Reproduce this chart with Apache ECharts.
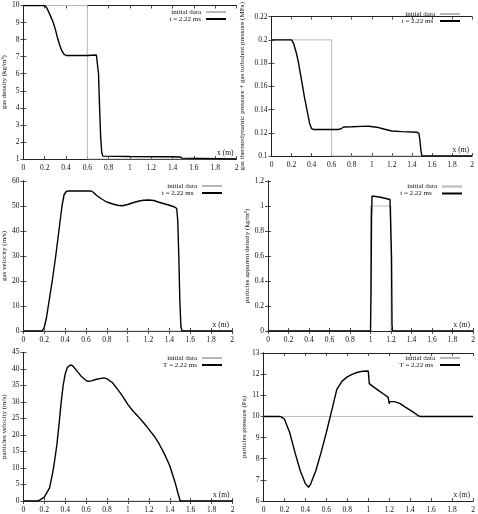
<!DOCTYPE html>
<html>
<head>
<meta charset="utf-8">
<script src="https://cdn.jsdelivr.net/npm/echarts@6/dist/echarts.min.js"></script>
<style>
  html, body { margin: 0; padding: 0; background: #fff; }
  #main { width: 478px; height: 514px; }
</style>
</head>
<body>
<div id="main"></div>
<script>
// ---- data ----
// gas density (kg/m3)
var xDensity0 = [0, 0.6, 0.6, 2];
var yDensity0 = [10, 10, 1, 1];
var xDensity = [0, 0.2, 0.22, 0.25, 0.28, 0.3, 0.32, 0.34, 0.36, 0.38, 0.4, 0.6, 0.685, 0.695, 0.705, 0.715, 0.725, 0.735, 0.745, 0.76, 1.0, 1.4, 1.47, 1.49, 1.5, 2];
var yDensity = [10, 10, 9.85, 9.45, 9.0, 8.6, 8.1, 7.7, 7.35, 7.15, 7.07, 7.07, 7.1, 7.0, 6.0, 4.0, 2.3, 1.4, 1.17, 1.15, 1.15, 1.13, 1.12, 1.05, 1.0, 1.0];

// gas thermodynamic + turbulent pressure (MPa)
var xPress0 = [0, 0.6, 0.6, 2];
var yPress0 = [0.2, 0.2, 0.1, 0.1];
var xPress = [0, 0.2, 0.22, 0.25, 0.27, 0.3, 0.33, 0.36, 0.38, 0.4, 0.42, 0.66, 0.69, 0.72, 0.8, 0.9, 0.97, 1.05, 1.12, 1.2, 1.3, 1.45, 1.47, 1.48, 1.49, 1.5, 2];
var yPress = [0.2, 0.2, 0.197, 0.188, 0.18, 0.165, 0.15, 0.137, 0.128, 0.1235, 0.1228, 0.1228, 0.1232, 0.125, 0.1252, 0.1255, 0.1256, 0.1248, 0.1232, 0.1215, 0.121, 0.1205, 0.1195, 0.114, 0.105, 0.1, 0.1];

// gas velocity (m/s)
var xGasVel0 = [0, 2];
var yGasVel0 = [0, 0];
var xGasVel = [0, 0.18, 0.2, 0.22, 0.25, 0.28, 0.31, 0.34, 0.37, 0.39, 0.41, 0.43, 0.65, 0.67, 0.7, 0.75, 0.8, 0.85, 0.9, 0.95, 1.0, 1.05, 1.1, 1.15, 1.2, 1.25, 1.3, 1.35, 1.4, 1.45, 1.47, 1.48, 1.49, 1.5, 1.51, 1.52, 2];
var yGasVel = [0, 0, 1.5, 5, 13, 21, 30, 40, 50, 54.5, 55.8, 56, 56, 55.5, 54.3, 52.8, 51.6, 50.9, 50.3, 50.1, 50.6, 51.3, 51.9, 52.3, 52.4, 52.2, 51.5, 50.9, 50.3, 49.6, 49.0, 44, 30, 12, 2, 0, 0];

// particles apparent density (kg/m3)
var xPartDens0 = [0, 1, 1, 1.2, 1.2, 2];
var yPartDens0 = [0, 0, 1, 1, 0, 0];
var xPartDens = [0, 1.0, 1.005, 1.01, 1.015, 1.02, 1.1, 1.19, 1.2, 1.205, 1.21, 1.215, 2];
var yPartDens = [0, 0, 0.3, 0.9, 1.08, 1.085, 1.07, 1.052, 1.05, 0.6, 0.05, 0, 0];

// particles velocity (m/s)
var xPartVel0 = [0, 2];
var yPartVel0 = [0, 0];
var xPartVel = [0, 0.13, 0.15, 0.2, 0.25, 0.28, 0.3, 0.32, 0.34, 0.36, 0.38, 0.4, 0.42, 0.45, 0.47, 0.5, 0.55, 0.6, 0.62, 0.65, 0.7, 0.77, 0.8, 0.85, 0.9, 0.95, 1.0, 1.05, 1.1, 1.15, 1.2, 1.25, 1.3, 1.35, 1.4, 1.45, 1.48, 1.5, 2];
var yPartVel = [0, 0, 0.2, 1.2, 4, 8.5, 12.5, 17, 23, 29.5, 35, 38.5, 40.5, 41.2, 41.0, 39.9, 37.9, 36.5, 36.3, 36.4, 36.9, 37.3, 37.0, 35.9, 33.9, 31.7, 29.2, 27.2, 25.5, 23.7, 21.7, 19.7, 17.2, 14.2, 10.7, 5.7, 2.2, 0, 0];

// particles pressure (Pa)
var xPartPres0 = [0, 2];
var yPartPres0 = [10, 10];
var xPartPres = [0, 0.15, 0.17, 0.2, 0.25, 0.3, 0.35, 0.4, 0.43, 0.45, 0.5, 0.55, 0.6, 0.65, 0.7, 0.75, 0.8, 0.85, 0.9, 0.95, 1.0, 1.005, 1.01, 1.02, 1.05, 1.1, 1.15, 1.19, 1.2, 1.205, 1.25, 1.3, 1.35, 1.4, 1.45, 1.48, 1.5, 2];
var yPartPres = [10, 10, 9.98, 9.87, 9.24, 8.3, 7.44, 6.82, 6.65, 6.8, 7.44, 8.3, 9.24, 10.25, 11.28, 11.67, 11.87, 12.0, 12.09, 12.14, 12.15, 12.12, 11.55, 11.5, 11.4, 11.22, 11.05, 10.9, 10.6, 10.7, 10.7, 10.62, 10.45, 10.3, 10.13, 10.02, 10, 10];

var xTicks = { min: 0, max: 2, interval: 0.2 };

function pairs(xs, ys) {
    return xs.map(function (x, i) { return [x, ys[i]]; });
}

var FONT = '"Liberation Serif", "DejaVu Serif", serif';

var panels = [
    { grid: { left: 21, top: 5.5, width: 215.5, height: 153.5 }, yMin: 1, yMax: 10, yInt: 1,
      yName: 'gas density (kg/m\u00b3)', nameGap: 13,
      init: pairs(xDensity0, yDensity0), res: pairs(xDensity, yDensity), resName: 't = 2.22 ms',
      legend: { right: 251, top: 8.5 } },
    { grid: { left: 271.5, top: 7.5, width: 200.5, height: 148.5 }, yMin: 0.1, yMax: 0.22, yInt: 0.02,
      yName: 'gas thermodynamic pressure + gas turbulent pressure (MPa)', nameGap: 26,
      init: pairs(xPress0, yPress0), res: pairs(xPress, yPress), resName: 't = 2.22 ms ',
      legend: { right: 17, top: 10.5 } },
    { grid: { left: 21.5, top: 181, width: 210.5, height: 150 }, yMin: 0, yMax: 60, yInt: 10,
      yName: 'gas velocity (m/s)', nameGap: 15,
      init: pairs(xGasVel0, yGasVel0), res: pairs(xGasVel, yGasVel), resName: 't = 2.22 ms  ',
      legend: { right: 255, top: 182.5 } },
    { grid: { left: 268, top: 181, width: 205, height: 150 }, yMin: 0, yMax: 1.2, yInt: 0.2,
      yName: 'particles apparent density (kg/m\u00b3)', nameGap: 17,
      init: pairs(xPartDens0, yPartDens0), res: pairs(xPartDens, yPartDens), resName: 't = 2.22 ms   ',
      legend: { right: 15, top: 183 } },
    { grid: { left: 21.5, top: 352.5, width: 211, height: 149.5 }, yMin: 0, yMax: 45, yInt: 5,
      yName: 'particles velocity (m/s)', nameGap: 15,
      init: pairs(xPartVel0, yPartVel0), res: pairs(xPartVel, yPartVel), resName: 'T = 2.22 ms',
      legend: { right: 255, top: 354.5 } },
    { grid: { left: 263.5, top: 353, width: 209.5, height: 149 }, yMin: 6, yMax: 13, yInt: 1,
      yName: 'particles pressure (Pa)', nameGap: 10,
      init: pairs(xPartPres0, yPartPres0), res: pairs(xPartPres, yPartPres), resName: 'T = 2.22 ms ',
      legend: { right: 17, top: 354.5 } }
];

var axisLine = { show: true, lineStyle: { color: '#222', width: 1 } };
var tick = { show: true, inside: true, length: 3, lineStyle: { color: '#222', width: 0.8 } };
var label = { color: '#111', fontFamily: FONT, fontSize: 7.5 };

var grids = [], xAxes = [], yAxes = [], series = [], legends = [];

panels.forEach(function (p, i) {
    grids.push(Object.assign({ containLabel: false }, p.grid));

    // bottom axis + mirrored top ticks
    xAxes.push({
        type: 'value', gridIndex: i, position: 'bottom',
        min: xTicks.min, max: xTicks.max, interval: xTicks.interval,
        axisLine: axisLine, axisTick: tick, splitLine: { show: false },
        axisLabel: Object.assign({ margin: 5 }, label),
        name: 'x (m)', nameLocation: 'end', nameGap: -3,
        nameTextStyle: { fontFamily: FONT, fontSize: 7.5, color: '#111', align: 'right', verticalAlign: 'bottom', padding: [0, 0, 2, 0] }
    });
    xAxes.push({
        type: 'value', gridIndex: i, position: 'top',
        min: xTicks.min, max: xTicks.max, interval: xTicks.interval,
        axisLine: axisLine, axisTick: tick, splitLine: { show: false },
        axisLabel: { show: false }
    });

    // left axis + mirrored right ticks
    yAxes.push({
        type: 'value', gridIndex: i, position: 'left',
        min: p.yMin, max: p.yMax, interval: p.yInt,
        axisLine: axisLine, axisTick: tick, splitLine: { show: false },
        axisLabel: Object.assign({ margin: 4 }, label),
        name: p.yName, nameLocation: 'middle', nameGap: p.nameGap, nameRotate: 90,
        nameTextStyle: { fontFamily: FONT, fontSize: 7, color: '#111' }
    });
    yAxes.push({
        type: 'value', gridIndex: i, position: 'right',
        min: p.yMin, max: p.yMax, interval: p.yInt,
        axisLine: axisLine, axisTick: tick, splitLine: { show: false },
        axisLabel: { show: false }
    });

    var initName = 'initial data' + (i ? new Array(i + 1).join('\u200b') : '');
    series.push({
        name: initName, type: 'line', xAxisIndex: 2 * i, yAxisIndex: 2 * i,
        data: p.init, symbol: 'none', showSymbol: false, animation: false,
        lineStyle: { color: '#b8b8b8', width: 1 }, itemStyle: { color: '#b8b8b8' }
    });
    series.push({
        name: p.resName, type: 'line', xAxisIndex: 2 * i, yAxisIndex: 2 * i,
        data: p.res, symbol: 'none', showSymbol: false, animation: false,
        lineStyle: { color: '#000', width: 1.4 }, itemStyle: { color: '#000' }
    });

    legends.push({
        data: [initName, p.resName], orient: 'vertical', align: 'right',
        right: p.legend.right, top: p.legend.top,
        itemWidth: 20, itemHeight: 6, itemGap: 0, padding: 0,
        selectedMode: false,
        itemStyle: { opacity: 0 },
        textStyle: { fontFamily: FONT, fontSize: 7, color: '#111', lineHeight: 7, padding: [0, 0, 0, 0] }
    });
});

var chart = echarts.init(document.getElementById('main'));
var option = {
    backgroundColor: '#fff',
    animation: false,
    grid: grids,
    xAxis: xAxes,
    yAxis: yAxes,
    legend: legends,
    series: series
};
chart.setOption(option);
</script>
</body>
</html>
